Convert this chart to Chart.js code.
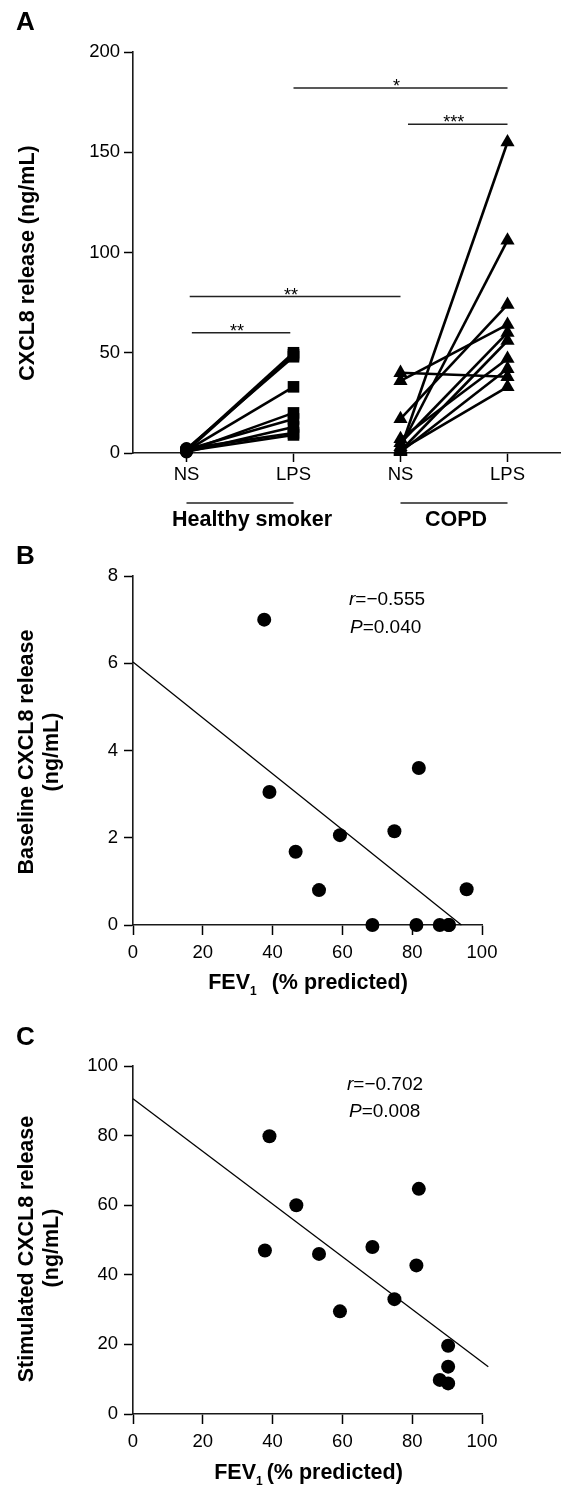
<!DOCTYPE html>
<html>
<head>
<meta charset="utf-8">
<script src="https://cdn.jsdelivr.net/npm/chart.js@4.4.1/dist/chart.umd.min.js"></script>
<style>
  body { margin: 0; background: #fff; }
  canvas { position: absolute; left: 0; }
  #chartA { top: 0; }
  #chartB { top: 545px; }
  #chartC { top: 1000px; }
</style>
</head>
<body>
<canvas id="chartA" width="561" height="545"></canvas>
<canvas id="chartB" width="561" height="455"></canvas>
<canvas id="chartC" width="561" height="486"></canvas>
<script>
// ---- Panel A: paired NS / LPS CXCL8 release (ng/mL)
const catPos = [0, 1, 2, 3];
const catLabels = ["NS", "LPS", "NS", "LPS"];
const groupNames = ["Healthy smoker", "COPD"];
const groupFrom = [0, 2];
const groupTo = [1, 3];

const hsNS = [1.5, 1.0, 2.0, 1.2, 0.8, 1.8, 0.5, 2.2, 1.0];
const hsLPS = [50, 49, 48, 33, 20, 17, 13, 10, 9];
const copdNS = [2, 3, 17, 36, 5, 1, 7, 40, 0.5, 1.5];
const copdLPS = [155, 106, 74, 64, 60, 56, 47, 38, 42, 33];

// significance brackets
const sigFrom = [0.03, 0.05, 1, 2.07];
const sigTo = [2, 0.97, 3, 3];
const sigY = [78, 60, 182, 164];
const sigText = ["**", "**", "*", "***"];

// ---- Panel B: baseline CXCL8 vs FEV1
const fevB = [37.6, 39.1, 46.6, 53.3, 59.3, 68.6, 74.9, 81.2, 81.9, 87.9, 90.5, 90.5, 95.6];
const baseB = [7.0, 3.05, 1.68, 0.8, 2.06, 0, 2.15, 0, 3.6, 0, 0, 0, 0.82];
const fitBx = [0, 94.1];
const fitBy = [6.03, 0];

// ---- Panel C: stimulated CXCL8 vs FEV1
const fevC = [37.8, 39.1, 46.8, 53.3, 59.3, 68.6, 74.9, 81.2, 81.9, 87.9, 90.3, 90.3, 90.3];
const stimC = [47, 79.8, 60, 46, 29.5, 48, 33, 42.7, 64.7, 9.8, 19.6, 13.6, 8.8];
const fitCx = [0, 101.8];
const fitCy = [90.6, 13.6];

const FONT = '"Liberation Sans", Arial, sans-serif';
Chart.defaults.font.family = FONT;
Chart.defaults.color = "#000";

function axisOpts(min, max, step, tickLen, pad, size, isX) {
  return {
    type: "linear",
    min: min,
    max: max,
    grid: { display: true, drawOnChartArea: false, drawTicks: true, tickLength: tickLen, tickColor: "#000", tickWidth: 1.5 },
    border: { display: true, color: "#1a1a1a", width: 1.6 },
    ticks: { stepSize: step, font: { size: 18.5 }, color: "#000", padding: pad },
    afterFit: function (s) {
      if (isX) {
        s.height = size;
        s.paddingLeft = 0;
        s.paddingRight = 0;
      } else {
        s.width = size;
      }
    }
  };
}

function txt(ctx, s, x, y, font, align, base) {
  ctx.save();
  ctx.font = font;
  ctx.fillStyle = "#000";
  ctx.textAlign = align || "center";
  ctx.textBaseline = base || "middle";
  ctx.fillText(s, x, y);
  ctx.restore();
}

function vtxt(ctx, s, x, y, font) {
  ctx.save();
  ctx.translate(x, y);
  ctx.rotate(-Math.PI / 2);
  txt(ctx, s, 0, 0, font);
  ctx.restore();
}

// italic symbol followed by plain text, left aligned
function stat(ctx, x, y, sym, rest) {
  ctx.save();
  ctx.font = "italic 19px " + FONT;
  const w = ctx.measureText(sym).width;
  txt(ctx, sym, x, y, ctx.font, "left");
  txt(ctx, rest, x + w, y, "19px " + FONT, "left");
  ctx.restore();
}

// "FEV1 (% predicted)" with subscript
function fevTitle(ctx, cx, cy, gap) {
  const big = "bold 21.5px " + FONT;
  const small = "bold 12px " + FONT;
  ctx.save();
  ctx.font = big;
  const w1 = ctx.measureText("FEV").width;
  const w3 = ctx.measureText("(% predicted)").width;
  ctx.font = small;
  const w2 = ctx.measureText("1").width;
  ctx.restore();
  let x = cx - (w1 + w2 + gap + w3) / 2;
  txt(ctx, "FEV", x, cy, big, "left");
  txt(ctx, "1", x + w1, cy + 9, small, "left");
  txt(ctx, "(% predicted)", x + w1 + w2 + gap, cy, big, "left");
}

const common = {
  responsive: false,
  animation: false,
  events: [],
  plugins: { legend: { display: false }, tooltip: { enabled: false } }
};

// ---------- Chart A
function pairDs(x0, y0, x1, y1, style, radius) {
  return {
    data: [{ x: x0, y: y0 }, { x: x1, y: y1 }],
    showLine: true,
    borderColor: "#000",
    borderWidth: 2.6,
    pointStyle: style,
    pointRadius: radius,
    pointBackgroundColor: "#000",
    pointBorderColor: "#000",
    pointBorderWidth: 0,
    clip: false
  };
}

const dsA = [];
hsNS.forEach((v, i) => dsA.push(pairDs(0, v, 1, hsLPS[i], ["circle", "rect"], [6.5, 8.2])));
copdNS.forEach((v, i) => dsA.push(pairDs(2, v, 3, copdLPS[i], "triangle", 8.2)));
sigFrom.forEach((f, i) => dsA.push({
  data: [{ x: f, y: sigY[i] }, { x: sigTo[i], y: sigY[i] }],
  showLine: true, borderColor: "#222", borderWidth: 1.5, pointRadius: 0, clip: false
}));

const xA = axisOpts(-0.5, 3.5, 1, 9, 2, 92, true);
xA.afterBuildTicks = function (s) { s.ticks = catPos.map(v => ({ value: v })); };
xA.ticks.callback = (v, i) => catLabels[i];

new Chart(document.getElementById("chartA"), {
  type: "scatter",
  data: { datasets: dsA },
  options: Object.assign({}, common, {
    layout: { autoPadding: false, padding: { left: 0, right: 0, top: 52, bottom: 0 } },
    scales: { x: xA, y: axisOpts(0, 200, 50, 9, 4, 133, false) }
  }),
  plugins: [{
    id: "textA",
    afterDraw(chart) {
      const ctx = chart.ctx, xs = chart.scales.x, ys = chart.scales.y;
      txt(ctx, "A", 16, 23, "bold 26px " + FONT, "left");
      vtxt(ctx, "CXCL8 release (ng/mL)", 28, 263, "bold 21.5px " + FONT);
      sigText.forEach((s, i) => {
        const cx = (xs.getPixelForValue(sigFrom[i]) + xs.getPixelForValue(sigTo[i])) / 2 - 4;
        txt(ctx, s, cx, ys.getPixelForValue(sigY[i]) + 4, "18px " + FONT, "center", "alphabetic");
      });
      ctx.save();
      ctx.strokeStyle = "#222";
      ctx.lineWidth = 1.5;
      groupNames.forEach((g, i) => {
        const a = xs.getPixelForValue(groupFrom[i]), b = xs.getPixelForValue(groupTo[i]);
        ctx.beginPath();
        ctx.moveTo(a, ys.bottom + 50);
        ctx.lineTo(b, ys.bottom + 50);
        ctx.stroke();
        txt(ctx, g, (a + b) / 2 + (i === 0 ? 12 : 2), ys.bottom + 67, "bold 21.5px " + FONT);
      });
      ctx.restore();
    }
  }]
});

// ---------- Charts B and C
function scatterChart(id, xsArr, ysArr, fitX, fitY, yMax, yStep, padTop, xHeight, draw) {
  new Chart(document.getElementById(id), {
    type: "scatter",
    data: {
      datasets: [
        {
          data: xsArr.map((x, i) => ({ x: x, y: ysArr[i] })),
          pointRadius: 7,
          pointBackgroundColor: "#000",
          pointBorderColor: "#000",
          pointBorderWidth: 0,
          clip: false
        },
        {
          data: fitX.map((x, i) => ({ x: x, y: fitY[i] })),
          showLine: true,
          borderColor: "#000",
          borderWidth: 1.3,
          pointRadius: 0,
          clip: false
        }
      ]
    },
    options: Object.assign({}, common, {
      layout: { autoPadding: false, padding: { left: 0, right: 79, top: padTop, bottom: 0 } },
      scales: {
        x: axisOpts(0, 100, 20, 10, 6.5, xHeight, true),
        y: axisOpts(0, yMax, yStep, 9, 6, 133, false)
      }
    }),
    plugins: [{ id: "text" + id, afterDraw(chart) { draw(chart.ctx); } }]
  });
}

scatterChart("chartB", fevB, baseB, fitBx, fitBy, 8, 2, 31, 75, function (ctx) {
  txt(ctx, "B", 16, 12, "bold 26px " + FONT, "left");
  vtxt(ctx, "Baseline CXCL8 release", 27, 207, "bold 21.5px " + FONT);
  vtxt(ctx, "(ng/mL)", 52, 207, "bold 21.5px " + FONT);
  fevTitle(ctx, 308, 438, 15);
  stat(ctx, 349, 55, "r", "=\u22120.555");
  stat(ctx, 350, 82.5, "P", "=0.040");
});

scatterChart("chartC", fevC, stimC, fitCx, fitCy, 100, 20, 66, 72, function (ctx) {
  txt(ctx, "C", 16, 37.5, "bold 26px " + FONT, "left");
  vtxt(ctx, "Stimulated CXCL8 release", 27, 249, "bold 21.5px " + FONT);
  vtxt(ctx, "(ng/mL)", 52, 248, "bold 21.5px " + FONT);
  fevTitle(ctx, 308.5, 473, 4);
  stat(ctx, 347, 85, "r", "=\u22120.702");
  stat(ctx, 349, 112, "P", "=0.008");
});
</script>
</body>
</html>
